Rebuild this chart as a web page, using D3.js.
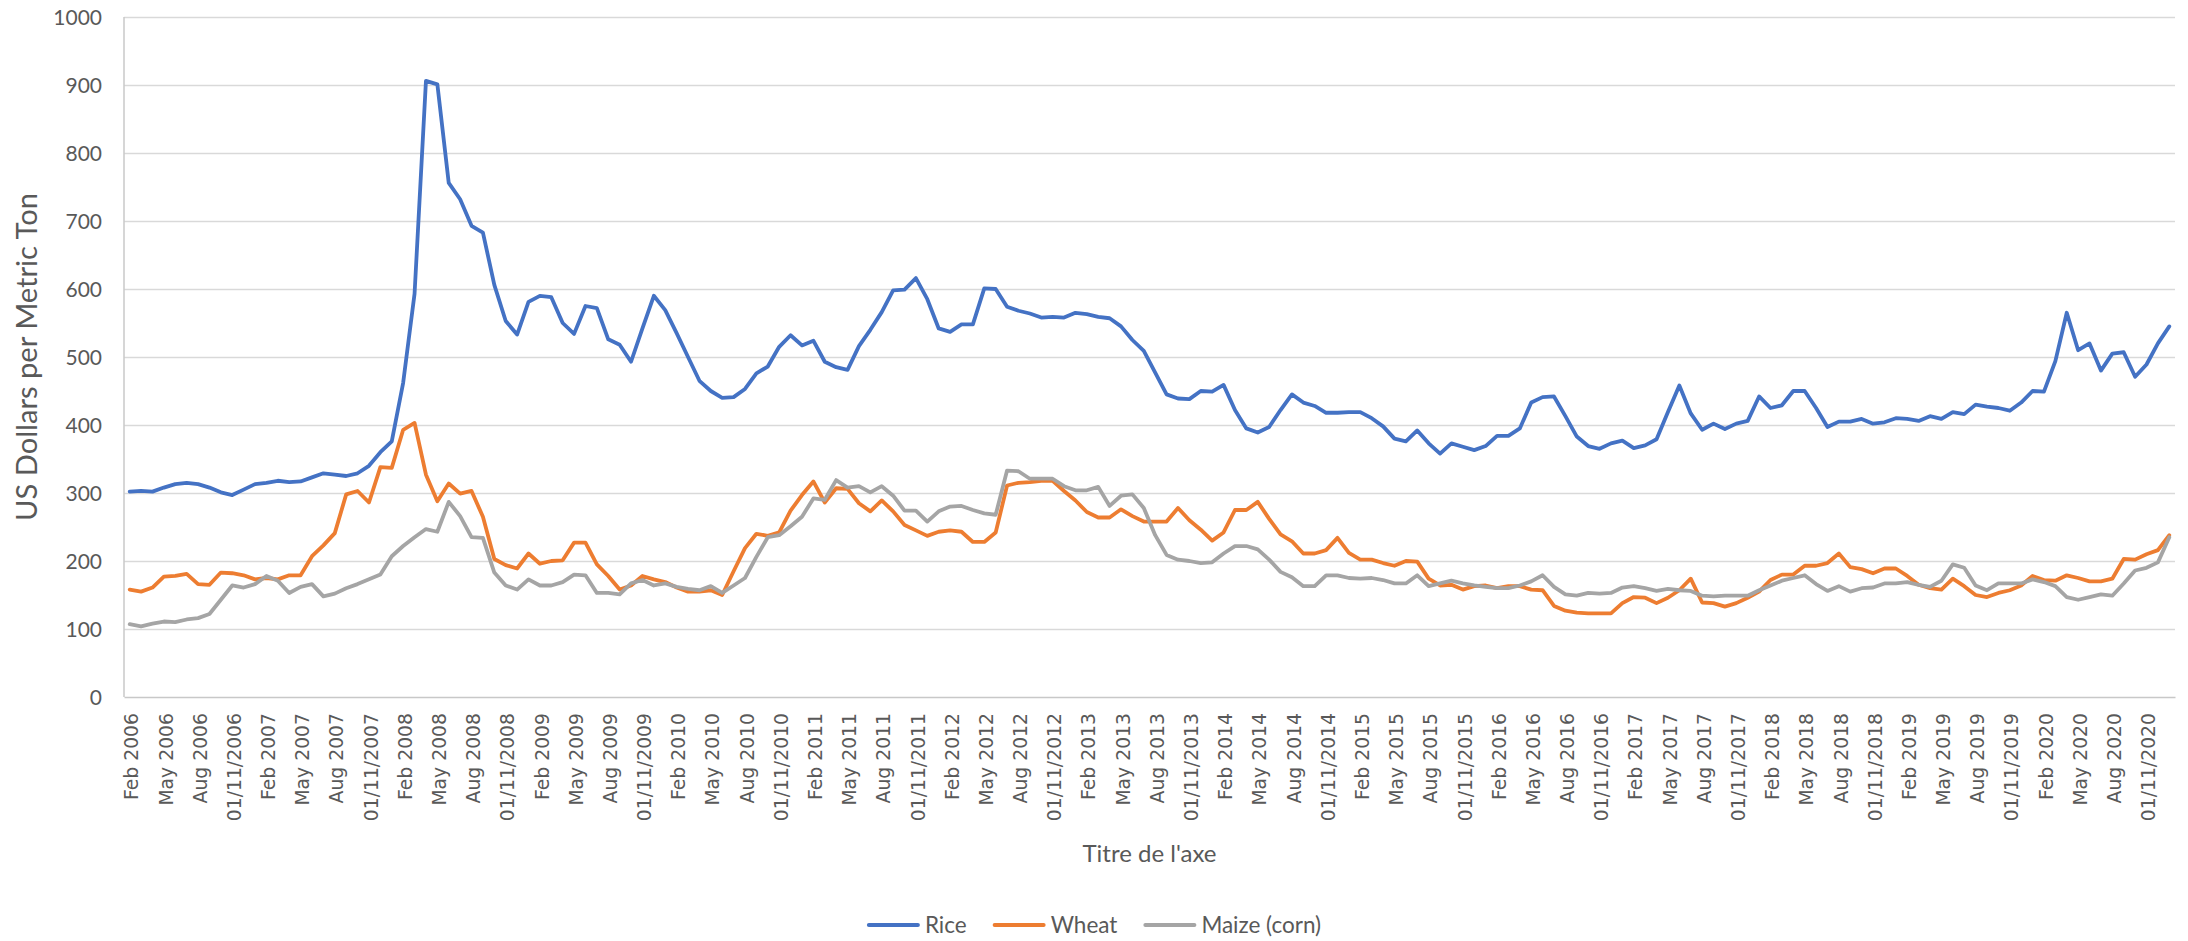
<!DOCTYPE html>
<html>
<head>
<meta charset="utf-8">
<script src="https://cdn.jsdelivr.net/npm/d3@7"></script>
<style>
  html, body { margin: 0; padding: 0; background: #ffffff; }
  svg { display: block; }
</style>
</head>
<body>
<svg id="chart" width="2188" height="941"></svg>
<script>
// ---------------- DATA ----------------
const seriesNames = ["Rice", "Wheat", "Maize (corn)"];
const seriesColors = ["#4472C4", "#ED7D31", "#A5A5A5"];

// monthly categories Feb 2006 .. Jan 2021
const categories = d3.timeMonth.range(new Date(2006, 1, 1), new Date(2021, 1, 1));

const tickLabels = [
  "Feb 2006","May 2006","Aug 2006","01/11/2006",
  "Feb 2007","May 2007","Aug 2007","01/11/2007",
  "Feb 2008","May 2008","Aug 2008","01/11/2008",
  "Feb 2009","May 2009","Aug 2009","01/11/2009",
  "Feb 2010","May 2010","Aug 2010","01/11/2010",
  "Feb 2011","May 2011","Aug 2011","01/11/2011",
  "Feb 2012","May 2012","Aug 2012","01/11/2012",
  "Feb 2013","May 2013","Aug 2013","01/11/2013",
  "Feb 2014","May 2014","Aug 2014","01/11/2014",
  "Feb 2015","May 2015","Aug 2015","01/11/2015",
  "Feb 2016","May 2016","Aug 2016","01/11/2016",
  "Feb 2017","May 2017","Aug 2017","01/11/2017",
  "Feb 2018","May 2018","Aug 2018","01/11/2018",
  "Feb 2019","May 2019","Aug 2019","01/11/2019",
  "Feb 2020","May 2020","Aug 2020","01/11/2020"
];

const yTicks = [0,100,200,300,400,500,600,700,800,900,1000];

const rice = [
  302,303,302,308,313,315,313,308,301,297,
  305,313,315,318,316,317,323,329,327,325,
  329,340,360,376,462,593,906,901,756,732,
  693,683,606,553,533,581,590,588,550,534,
  575,572,526,518,493,542,590,569,535,500,
  465,450,440,441,453,476,486,515,532,517,
  524,493,485,481,516,540,566,598,599,616,
  585,542,537,548,548,601,600,574,568,564,
  558,559,558,565,563,559,557,545,525,509,
  477,445,439,438,450,449,459,422,395,389,
  397,422,445,433,428,418,418,419,419,410,
  398,380,376,392,373,358,373,368,363,369,
  384,384,395,433,441,442,413,383,369,365,
  373,377,366,370,379,419,458,417,393,402,
  394,402,406,442,425,429,450,450,425,397,
  405,405,409,402,404,410,409,406,413,409,
  419,416,430,427,425,421,433,450,449,494,
  565,510,520,480,505,507,471,489,520,545
];

const wheat = [
  158,155,161,177,178,181,166,165,183,182,
  179,173,175,173,179,179,207,223,241,298,
  303,286,338,337,393,403,327,288,314,299,
  303,265,203,194,189,211,196,200,201,227,
  227,195,178,158,164,178,173,169,161,155,
  155,157,150,185,219,240,237,242,274,297,
  317,286,307,306,285,273,289,273,253,245,
  237,243,245,243,228,228,242,311,315,316,
  318,318,303,289,272,264,264,276,266,258,
  258,258,278,260,246,230,242,275,275,287,
  262,239,229,211,211,216,234,212,202,202,
  197,193,200,199,174,164,165,158,163,164,
  160,163,163,158,157,134,127,124,123,123,
  123,138,147,146,138,146,157,174,139,138,
  133,138,146,155,172,180,180,193,193,197,
  211,191,188,182,189,189,178,165,160,158,
  174,163,150,147,153,157,164,178,172,171,
  179,175,170,170,174,203,202,210,216,238
];

const maize = [
  107,104,108,111,110,114,116,122,143,164,
  161,166,178,171,153,162,166,148,152,160,
  166,173,180,207,222,235,247,243,287,266,
  235,234,183,164,158,173,164,164,169,180,
  179,153,153,151,167,172,164,167,162,159,
  157,163,153,164,175,206,235,238,251,265,
  292,290,319,308,310,301,310,296,274,274,
  258,273,280,281,275,270,268,333,332,321,
  321,321,310,304,304,309,281,296,298,278,
  238,209,202,200,197,198,211,222,222,217,
  202,184,176,163,163,179,179,175,174,175,
  172,167,167,179,163,167,171,167,164,162,
  160,160,164,170,179,162,151,149,153,152,
  153,161,163,160,156,159,157,156,149,148,
  149,149,149,157,164,171,175,179,166,156,
  163,155,160,161,167,167,169,165,162,171,
  195,190,164,157,167,167,167,173,169,163,
  147,143,147,151,149,167,186,190,198,235
];

const seriesValues = [rice, wheat, maize];

// ---------------- LAYOUT ----------------
const W = 2188, H = 941;
const plot = { left: 124, right: 2175, top: 17, bottom: 697 };

const svg = d3.select("#chart");

const x = d3.scaleBand()
  .domain(d3.range(categories.length))
  .range([plot.left, plot.right])
  .paddingInner(0).paddingOuter(0);

const y = d3.scaleLinear().domain([0, 1000]).range([plot.bottom, plot.top]);

const cx = i => x(i) + x.bandwidth() / 2;

// gridlines
const grid = svg.append("g")
  .attr("transform", `translate(${plot.left},0)`)
  .call(d3.axisLeft(y).tickValues(yTicks.filter(v => v > 0))
    .tickSize(-(plot.right - plot.left)).tickFormat(""));
grid.select(".domain").remove();
grid.selectAll("line").attr("stroke", "#D9D9D9").attr("stroke-width", 1.5);

// y axis labels
const yAxis = svg.append("g")
  .attr("transform", `translate(${plot.left},0)`)
  .call(d3.axisLeft(y).tickValues(yTicks).tickSize(0).tickPadding(22).tickFormat(d3.format("d")));
yAxis.select(".domain").remove();
yAxis.selectAll("text")
  .attr("fill", "#595959")
  .attr("font-family", "Lato, 'Open Sans', sans-serif")
  .attr("font-size", 21)
  .attr("dy", "0.36em");

// axis lines (left + bottom)
svg.append("line")
  .attr("x1", plot.left).attr("x2", plot.left)
  .attr("y1", plot.top).attr("y2", plot.bottom)
  .attr("stroke", "#C8C8C8").attr("stroke-width", 1.5);

// x axis
const tickIdx = tickLabels.map((_, k) => k * 3);
const xAxis = svg.append("g")
  .attr("transform", `translate(0,${plot.bottom})`)
  .call(d3.axisBottom(x).tickValues(tickIdx).tickSize(0)
    .tickFormat(i => tickLabels[i / 3]));
xAxis.select(".domain").attr("stroke", "#C8C8C8").attr("stroke-width", 1.5);
xAxis.selectAll(".tick text")
  .attr("fill", "#595959")
  .attr("font-family", "'DejaVu Sans', sans-serif")
  .attr("font-size", 18.8)
  .attr("text-anchor", "end")
  .attr("transform", "translate(0,16) rotate(-90)")
  .attr("x", 0).attr("y", 0)
  .attr("dy", "0.46em");

// lines
const line = d3.line()
  .x((d, i) => cx(i))
  .y(d => y(d));

seriesValues.forEach((vals, s) => {
  svg.append("path")
    .datum(vals)
    .attr("fill", "none")
    .attr("stroke", seriesColors[s])
    .attr("stroke-width", 3.8)
    .attr("stroke-linejoin", "round")
    .attr("stroke-linecap", "round")
    .attr("d", line);
});

// axis titles
svg.append("text")
  .attr("transform", `translate(37,${(plot.top + plot.bottom) / 2}) rotate(-90)`)
  .attr("text-anchor", "middle")
  .attr("fill", "#595959")
  .attr("font-family", "Lato, 'Open Sans', sans-serif")
  .attr("font-size", 28)
  .attr("textLength", 328)
  .attr("lengthAdjust", "spacingAndGlyphs")
  .text("US Dollars per Metric Ton");

svg.append("text")
  .attr("x", (plot.left + plot.right) / 2)
  .attr("y", 862)
  .attr("text-anchor", "middle")
  .attr("fill", "#595959")
  .attr("font-family", "Lato, 'Open Sans', sans-serif")
  .attr("font-size", 24)
  .text("Titre de l'axe");

// legend
const legend = svg.append("g");
const legendY = 925;
let cursor = 0;
seriesNames.forEach((name, s) => {
  const g = legend.append("g");
  g.append("line")
    .attr("x1", 2).attr("x2", 51)
    .attr("y1", legendY).attr("y2", legendY)
    .attr("stroke", seriesColors[s]).attr("stroke-width", 4)
    .attr("stroke-linecap", "round");
  const t = g.append("text")
    .attr("x", 58).attr("y", legendY).attr("dy", "0.36em")
    .attr("fill", "#595959")
    .attr("font-family", "Lato, 'Open Sans', sans-serif")
    .attr("font-size", 22.5)
    .text(name);
  const w = 58 + t.node().getComputedTextLength();
  g.attr("transform", `translate(${cursor},0)`);
  cursor += w + 26;
});
const totalW = cursor - 26;
legend.attr("transform", `translate(${W / 2 - totalW / 2},0)`);
</script>
</body>
</html>
